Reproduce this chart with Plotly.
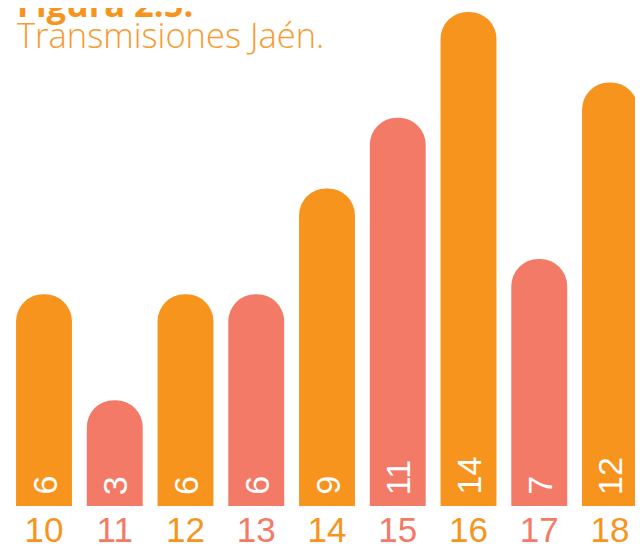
import plotly.graph_objects as go

categories = [10, 11, 12, 13, 14, 15, 16, 17, 18]
values = [6, 3, 6, 6, 9, 11, 14, 7, 12]
ORANGE = "#F7941D"
SALMON = "#F37A66"
colors = [ORANGE if i % 2 == 0 else SALMON for i in range(len(categories))]
tick_labels = [str(c) for c in categories]
title_text = "Figura 2.5."
subtitle_text = "Transmisiones Jaén."

W, H = 635, 538
PX_UNIT = 35.29
PITCH = 70.75

fig = go.Figure()
fig.add_trace(go.Bar(
    x=categories, y=values, width=0.79,
    marker=dict(color=colors, cornerradius=28, line=dict(width=0)),
    hoverinfo="skip",
))

for c, v in zip(categories, values):
    fig.add_annotation(
        x=c, y=0, xref="x", yref="y", text=str(v), showarrow=False,
        textangle=-90, xanchor="center", yanchor="bottom", yshift=9,
        font=dict(family="Liberation Sans, Arial", size=34, color="white"),
    )

fig.add_annotation(
    x=0, y=1, xref="paper", yref="paper", xanchor="left", yanchor="top",
    text="<b>" + title_text + "</b>", showarrow=False, xshift=7, yshift=30,
    font=dict(family="Open Sans", size=34.5, color=ORANGE),
)
fig.add_annotation(
    x=0, y=1, xref="paper", yref="paper", xanchor="left", yanchor="top",
    text=subtitle_text, showarrow=False, xshift=7, yshift=-1,
    font=dict(family="Open Sans", size=34.5, color="#F89A2E", weight=300),
)

fig.update_layout(
    width=W, height=H,
    margin=dict(l=0, r=0, t=0, b=40, autoexpand=False),
    paper_bgcolor="white", plot_bgcolor="white",
    showlegend=False,
    xaxis=dict(
        range=[10 - 36 / PITCH, 18 + 33 / PITCH],
        tickmode="array", tickvals=categories,
        ticktext=[f'<span style="color:{col}">{t}</span>' for t, col in zip(tick_labels, colors)],
        showgrid=False, zeroline=False, showline=False, ticks="",
        tickfont=dict(family="Liberation Sans, Arial", size=35),
        ticklabelstandoff=0, automargin=False,
    ),
    yaxis=dict(range=[0, 498 / PX_UNIT], visible=False, showgrid=False, zeroline=False,
               automargin=False),
)

fig.write_html("out.html")
